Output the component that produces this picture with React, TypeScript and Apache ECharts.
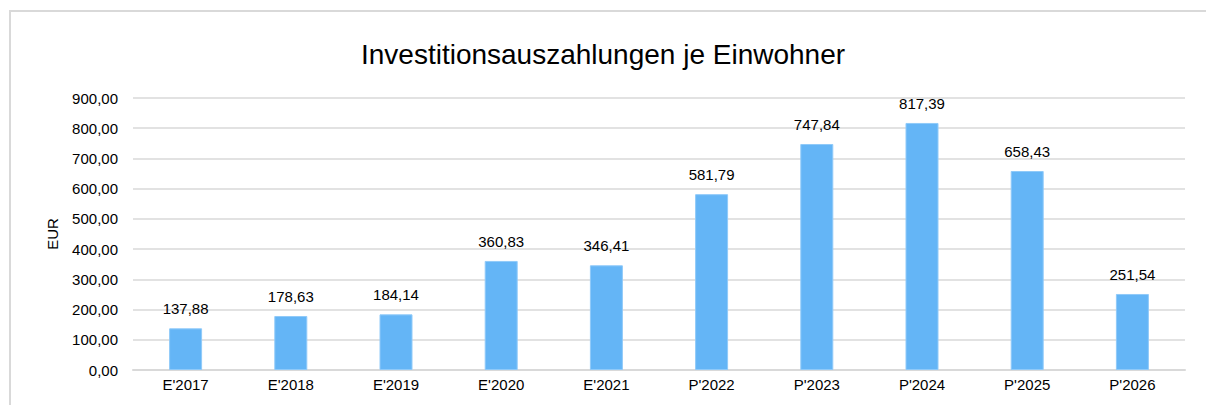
import React, { useEffect, useRef } from "react";
import * as echarts from "echarts";

const categories = ["E'2017", "E'2018", "E'2019", "E'2020", "E'2021", "P'2022", "P'2023", "P'2024", "P'2025", "P'2026"];
const values = [137.88, 178.63, 184.14, 360.83, 346.41, 581.79, 747.84, 817.39, 658.43, 251.54];
const titleText = "Investitionsauszahlungen je Einwohner";
const yAxisName = "EUR";

const fmt = (v: number) => v.toFixed(2).replace(".", ",");

export default function App() {
  const ref = useRef<HTMLDivElement>(null);
  useEffect(() => {
    const chart = echarts.init(ref.current!, undefined, { renderer: "svg" });
    const font = "'Liberation Sans', Arial, sans-serif";
    chart.setOption({
      animation: false,
      backgroundColor: "#ffffff",
      title: {
        text: titleText,
        left: 598,
        textAlign: "center",
        top: 35,
        textStyle: { fontFamily: font, fontSize: 28, fontWeight: "normal", color: "#000" },
      },
      graphic: [
        {
          type: "rect",
          shape: { x: 10, y: 11, width: 1220, height: 420 },
          style: { fill: "none", stroke: "#d9d9d9", lineWidth: 2 },
          silent: true,
        },
      ],
      grid: { left: 133, right: 21, top: 98, bottom: 35, containLabel: false },
      xAxis: {
        type: "category",
        data: categories,
        axisTick: { show: false },
        axisLine: { lineStyle: { color: "#d9d9d9", width: 2 } },
        axisLabel: { color: "#000", fontFamily: font, fontSize: 15, margin: 7 },
      },
      yAxis: {
        type: "value",
        min: 0,
        max: 900,
        interval: 100,
        name: yAxisName,
        nameLocation: "middle",
        nameGap: 73,
        nameRotate: 90,
        nameTextStyle: { color: "#000", fontFamily: font, fontSize: 15 },
        axisLine: { show: false },
        axisTick: { show: false },
        splitLine: { lineStyle: { color: "#d9d9d9", width: 1.5 } },
        axisLabel: { color: "#000", fontFamily: font, fontSize: 15, margin: 15, formatter: (v: number) => fmt(v) },
      },
      series: [
        {
          type: "bar",
          data: values,
          barWidth: 33,
          itemStyle: { color: "#64B5F6", borderColor: "#90CAF9", borderWidth: 1 },
          label: {
            show: true,
            position: "top",
            distance: 12,
            color: "#000",
            fontFamily: font,
            fontSize: 15,
            formatter: (p: any) => fmt(p.value),
          },
        },
      ],
    });
    return () => chart.dispose();
  }, []);
  return <div ref={ref} style={{ position: "fixed", left: 0, top: 0, width: 1206, height: 405 }} />;
}
